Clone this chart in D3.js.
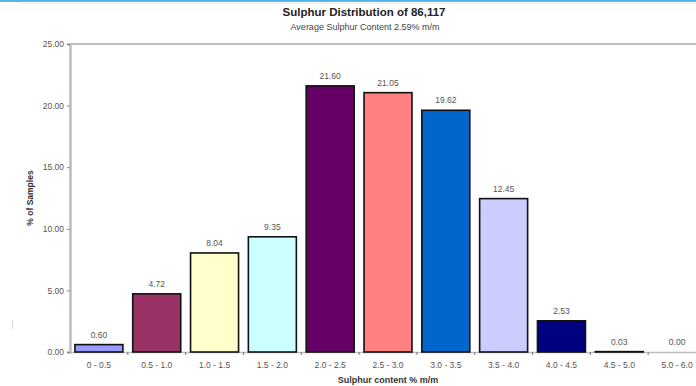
<!DOCTYPE html>
<html><head><meta charset="utf-8">
<script src="https://cdn.jsdelivr.net/npm/d3@7"></script>
<style>body{margin:0;background:#fff;overflow:hidden}svg{display:block}</style>
</head><body>
<script>
const categories = ["0 - 0.5","0.5 - 1.0","1.0 - 1.5","1.5 - 2.0","2.0 - 2.5","2.5 - 3.0","3.0 - 3.5","3.5 - 4.0","4.0 - 4.5","4.5 - 5.0","5.0 - 6.0"];
const values = [0.60,4.72,8.04,9.35,21.60,21.05,19.62,12.45,2.53,0.03,0.00];
const barColors = ["#9999FF","#993366","#FFFFCC","#CCFFFF","#660066","#FF8080","#0066CC","#CCCCFF","#000080","#FF00FF","#FFFFFF"];
const yTicks = [0,5,10,15,20,25];
const title = "Sulphur Distribution of 86,117";
const subtitle = "Average Sulphur Content 2.59% m/m";
const xTitle = "Sulphur content % m/m";
const yTitle = "% of Samples";

const W = 696, H = 386;
const m = {left:70, top:44, right:706, bottom:352};
const svg = d3.select("body").append("svg").attr("width",W).attr("height",H);
const font = "Arial, 'Liberation Sans', sans-serif";
const small = 8.5;

// top decoration lines
svg.append("line").attr("x1",0).attr("x2",W).attr("y1",1).attr("y2",1).attr("stroke","#1a9ee0").attr("stroke-width",1.6);
svg.append("line").attr("x1",20).attr("x2",W).attr("y1",3.5).attr("y2",3.5).attr("stroke","#eeeeee").attr("stroke-width",1);
svg.append("line").attr("x1",12.5).attr("x2",12.5).attr("y1",320).attr("y2",329).attr("stroke","#dddddd").attr("stroke-width",1);

const x = d3.scaleBand().domain(categories).range([m.left,m.right]).paddingInner(0.17).paddingOuter(0.085);
const y = d3.scaleLinear().domain([0,25]).range([m.bottom,m.top]);

// plot top border
svg.append("line").attr("x1",m.left).attr("x2",W).attr("y1",m.top).attr("y2",m.top).attr("stroke","#bdbdbd").attr("stroke-width",2);

// y axis
const yAxis = d3.axisLeft(y).tickValues(yTicks).tickFormat(d3.format(".2f")).tickSize(3).tickPadding(3);
const gy = svg.append("g").attr("transform",`translate(${m.left},0)`).call(yAxis);
gy.select(".domain").attr("stroke","#bdbdbd").attr("stroke-width",2.5);
gy.selectAll(".tick line").attr("stroke","#888");
gy.selectAll("text").attr("font-family",font).attr("font-size",small).attr("fill","#555");

// x axis baseline
svg.append("line").attr("x1",m.left).attr("x2",W).attr("y1",m.bottom+0.5).attr("y2",m.bottom+0.5).attr("stroke","#bdbdbd").attr("stroke-width",1.5);
// boundary ticks
const step = x.step();
const bounds = d3.range(1,categories.length).map(i => x(categories[i]) - x.paddingInner()*step/2);
svg.selectAll(".btick").data(bounds).join("line").attr("x1",d=>d).attr("x2",d=>d)
  .attr("y1",m.bottom).attr("y2",m.bottom+3).attr("stroke","#777").attr("stroke-width",1);

// bars
svg.selectAll(".bar").data(values).join("rect")
  .attr("x",(d,i)=>x(categories[i]))
  .attr("y",d=>y(d))
  .attr("width",x.bandwidth())
  .attr("height",d=>Math.max(0,y(0)-y(d)))
  .attr("fill",(d,i)=>barColors[i])
  .attr("stroke",(d,i)=> d>0 ? "#111" : "none")
  .attr("stroke-width",1.6);

// value labels
svg.selectAll(".vl").data(values).join("text")
  .attr("x",(d,i)=>x(categories[i])+x.bandwidth()/2)
  .attr("y",d=>y(d)-7)
  .attr("text-anchor","middle").attr("font-family",font).attr("font-size",small).attr("fill","#555")
  .text(d=>d3.format(".2f")(d));

// category labels
svg.selectAll(".cl").data(categories).join("text")
  .attr("x",d=>x(d)+x.bandwidth()/2)
  .attr("y",m.bottom+16)
  .attr("text-anchor","middle").attr("font-family",font).attr("font-size",small).attr("fill","#555")
  .text(d=>d);

// titles
svg.append("text").attr("x",364).attr("y",16).attr("text-anchor","middle").attr("font-family",font)
  .attr("font-size",11.5).attr("font-weight","bold").attr("fill","#222").text(title);
svg.append("text").attr("x",365).attr("y",30).attr("text-anchor","middle").attr("font-family",font)
  .attr("font-size",9).attr("fill","#444").text(subtitle);
svg.append("text").attr("x",(m.left+m.right)/2).attr("y",383).attr("text-anchor","middle").attr("font-family",font)
  .attr("font-size",9).attr("font-weight","bold").attr("fill","#333").text(xTitle);
svg.append("text").attr("transform",`translate(33,${(m.top+m.bottom)/2}) rotate(-90)`).attr("text-anchor","middle")
  .attr("font-family",font).attr("font-size",8.5).attr("font-weight","bold").attr("fill","#333").text(yTitle);
</script>
</body></html>
